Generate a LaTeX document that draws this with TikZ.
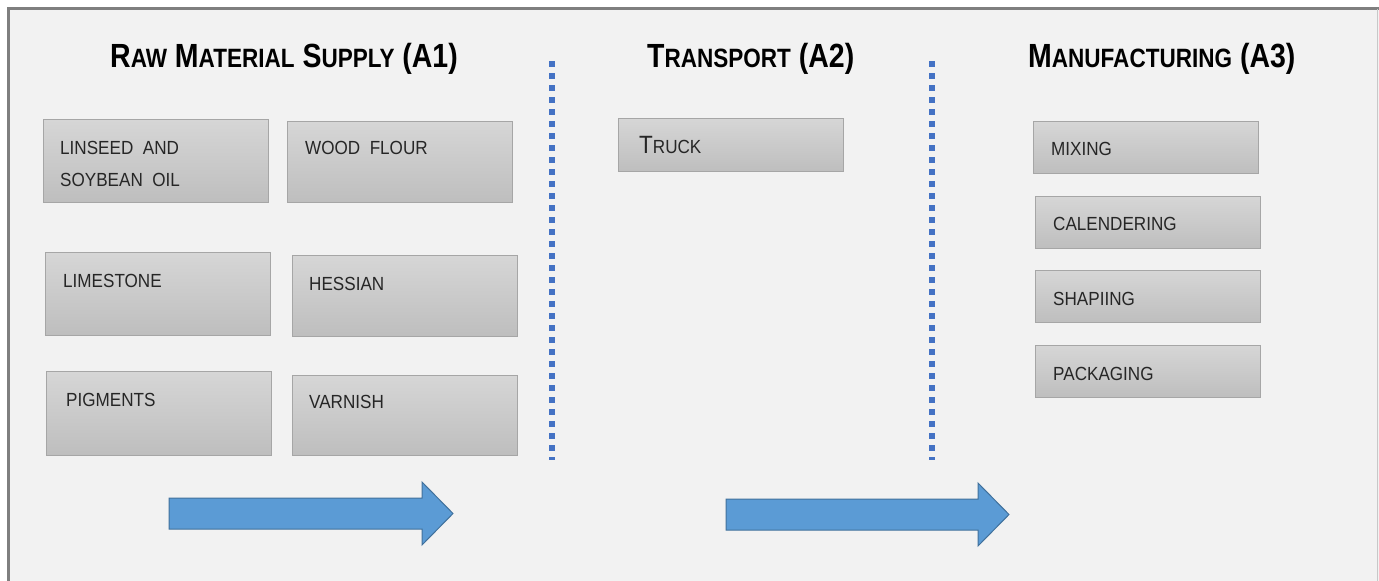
\documentclass[tikz,border=0pt]{standalone}
\usepackage{fontspec}
\setmainfont{Liberation Sans}
\newfontfamily\titlefont[FakeStretch=0.85]{Liberation Sans}
\newfontfamily\boxfont[FakeStretch=0.9]{Liberation Sans}
\usepackage{tikz}

\definecolor{bgcol}{HTML}{F2F2F2}
\definecolor{framecol}{HTML}{7F7F7F}
\definecolor{lightframe}{HTML}{C8C8C8}
\definecolor{boxtop}{HTML}{D6D6D6}
\definecolor{boxbot}{HTML}{BEBEBE}
\definecolor{boxline}{HTML}{A6A6A6}
\definecolor{dotblue}{HTML}{4472C4}
\definecolor{arrowfill}{HTML}{5B9BD5}
\definecolor{arrowline}{HTML}{41719C}

\newcommand{\smallpart}[1]{{\fontsize{26.5}{30}\selectfont #1}}
\newcommand{\bigpart}[1]{{\fontsize{25}{30}\selectfont #1}}

\begin{document}
\begin{tikzpicture}[x=1pt,y=-1pt,
  itembox/.style={draw=boxline, line width=1pt, top color=boxtop, bottom color=boxbot,
    minimum width=225pt, inner sep=0pt, anchor=north west},
  itemtext/.style={anchor=base west, inner sep=0pt, align=left, text=black!85,
    font=\boxfont\fontsize{19}{32}\selectfont},
  stagetitle/.style={anchor=base west, inner sep=0pt, font=\titlefont\bfseries\fontsize{33.5}{40}\selectfont},
  divider/.style={dotblue, line width=6pt, dash pattern=on 6pt off 6pt},
  flowarrow/.style={fill=arrowfill, draw=arrowline, line width=1pt, line join=miter}]

\useasboundingbox (0,0) rectangle (1379,581);
\fill[white] (0,0) rectangle (1379,581);
\fill[bgcol] (8,8) rectangle (1379,581);
\draw[framecol, line width=2.5pt] (8.5,581) -- (8.5,8.5) -- (1379,8.5);
\draw[lightframe, line width=1pt] (1377.5,8.5) -- (1377.5,581);

\node[stagetitle] (rawtitle) at (110,67) {R\smallpart{AW} M\smallpart{ATERIAL} S\smallpart{UPPLY} (A1)};
\node[stagetitle] (transtitle) at (647,67) {T\smallpart{RANSPORT} (A2)};
\node[stagetitle] (mantitle) at (1028,67) {M\smallpart{ANUFACTURING} (A3)};

\node[itembox, minimum height=83pt] (linseed) at (43,119) {};
\node[itembox, minimum height=81pt] (woodflour) at (287,121) {};
\node[itembox, minimum height=83pt] (limestone) at (45,252) {};
\node[itembox, minimum height=81pt] (hessian) at (292,255) {};
\node[itembox, minimum height=84pt] (pigments) at (46,371) {};
\node[itembox, minimum height=80pt] (varnish) at (292,375) {};

\node[itembox, minimum height=53pt] (truck) at (618,118) {};

\node[itembox, minimum height=52pt] (mixing) at (1033,121) {};
\node[itembox, minimum height=52pt] (calendering) at (1035,196) {};
\node[itembox, minimum height=52pt] (shaping) at (1035,270) {};
\node[itembox, minimum height=52pt] (packaging) at (1035,345) {};

\node[itemtext] (linseedtext) at ([shift={(17,67)}]linseed.north west) {LINSEED\ \ AND\\SOYBEAN\ \ OIL};
\node[itemtext] (woodflourtext) at ([shift={(18,33)}]woodflour.north west) {WOOD\ \ FLOUR};
\node[itemtext] (limestonetext) at ([shift={(18,35)}]limestone.north west) {LIMESTONE};
\node[itemtext] (hessiantext) at ([shift={(17,35)}]hessian.north west) {HESSIAN};
\node[itemtext] (pigmentstext) at ([shift={(20,35)}]pigments.north west) {PIGMENTS};
\node[itemtext] (varnishtext) at ([shift={(17,33)}]varnish.north west) {VARNISH};

\node[itemtext] (trucktext) at ([shift={(21,35)}]truck.north west) {\bigpart{T}RUCK};

\node[itemtext] (mixingtext) at ([shift={(18,34)}]mixing.north west) {MIXING};
\node[itemtext] (calenderingtext) at ([shift={(18,34)}]calendering.north west) {CALENDERING};
\node[itemtext] (shapingtext) at ([shift={(18,35)}]shaping.north west) {SHAPIING};
\node[itemtext] (packagingtext) at ([shift={(18,35)}]packaging.north west) {PACKAGING};

\draw[divider] (552,61) -- (552,460);
\draw[divider] (932,61) -- (932,460);

\draw[flowarrow] (169,498) -- (422,498) -- (422,482) -- (453,513.5) -- (422,545) -- (422,529) -- (169,529) -- cycle;
\draw[flowarrow] (726,499) -- (978,499) -- (978,483) -- (1009,514.5) -- (978,546) -- (978,530) -- (726,530) -- cycle;

\end{tikzpicture}
\end{document}
